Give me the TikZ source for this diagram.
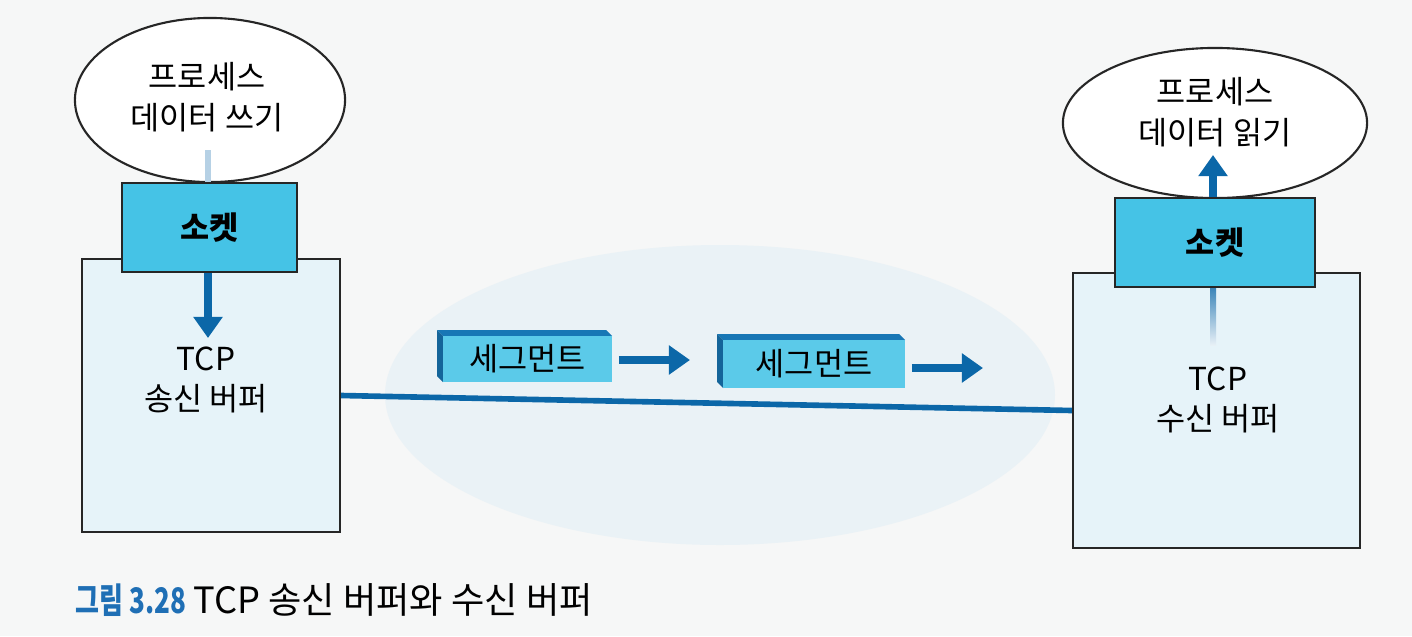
\documentclass[tikz,border=0pt]{standalone}
\usepackage{fontspec}
\usepackage{graphicx}
\setmainfont{Noto Sans CJK KR}
\usetikzlibrary{arrows.meta,shapes.geometric}
\definecolor{bg}{HTML}{F6F7F7}
\definecolor{cloudc}{HTML}{EAF2F6}
\definecolor{sockc}{HTML}{45C3E6}
\definecolor{bufc}{HTML}{E6F3F9}
\definecolor{darkb}{HTML}{0B67A8}
\definecolor{edgeb}{HTML}{1877B5}
\definecolor{capb}{HTML}{1F6FB5}
\tikzset{
  proc/.style={ellipse,draw=black!85,line width=0.6pt,fill=white,align=center,font=\fontsize{9}{11.5}\selectfont},
  sock/.style={rectangle,draw=black!85,line width=0.7pt,fill=sockc,font=\bfseries\fontsize{9}{11}\selectfont},
  buf/.style={rectangle,draw=black!85,line width=0.6pt,fill=bufc},
  lbl/.style={align=center,font=\fontsize{9}{11.5}\selectfont},
  flow/.style={draw=darkb,line width=2.2pt,-{Triangle[length=6pt,width=8pt]}},
  seglbl/.style={font=\fontsize{9}{11}\selectfont},
  segbox/.style={rectangle,fill=sockc!88!white,inner sep=0pt,seglbl},
  link/.style={draw=darkb,line width=1.6pt}
}
\begin{document}
\begin{tikzpicture}[x=0.01cm,y=-0.01cm]
\useasboundingbox (0,0) rectangle (1412,636);
\fill[bg] (0,0) rectangle (1412,636);
% faint cloud
\fill[cloudc] (720,395) ellipse [x radius=335, y radius=150];
% left host
\node[proc,minimum width=2.7cm,minimum height=1.64cm] (lproc) at (210,100) {};
\node[lbl] (lproctxt) at (207,97) {프로세스\\데이터 쓰기};
\node[buf,minimum width=2.58cm,minimum height=2.73cm] (lbuf) at (211,395.5) {};
\node[sock,minimum width=1.75cm,minimum height=0.89cm] (lsock) at (209.5,227.5) {소켓};
\node[lbl] (lbuftxt) at (206,380) {TCP\\송신 버퍼};
\coordinate (lin) at (208,150);
\coordinate (lout) at (208,338);
\draw[draw=darkb!30,line width=1.8pt] (lin) -- (lsock.north -| lin);
\draw[flow] (lsock.south -| lout) -- (lout);
% right host
\node[proc,minimum width=3.04cm,minimum height=1.50cm] (rproc) at (1215,123) {};
\node[lbl] (rproctxt) at (1215,112) {프로세스\\데이터 읽기};
\node[buf,minimum width=2.87cm,minimum height=2.75cm] (rbuf) at (1216.5,410.5) {};
\node[sock,minimum width=2.0cm,minimum height=0.89cm] (rsock) at (1215,242.5) {소켓};
\node[lbl] (rbuftxt) at (1218,400) {TCP\\수신 버퍼};
\coordinate (rin) at (1213,345);
\coordinate (rtop) at (1213,155);
\shade[bottom color=darkb!10,top color=darkb!80] (1210,288) rectangle (1216,345);
\draw[flow] (rsock.north -| rtop) -- (rtop);
% link
\draw[link] (lbuf.east) -- (rbuf.west);
% segments
\fill[edgeb] (437,330) -- (606,330) -- (612,336) -- (443,336) -- cycle;
\fill[edgeb!85!black] (437,330) -- (443,336) -- (443,382) -- (437,376) -- cycle;
\node[segbox,minimum width=1.69cm,minimum height=0.46cm] (seg1) at (527.5,359) {세그먼트};
\fill[edgeb] (717,334) -- (899,334) -- (905,340) -- (723,340) -- cycle;
\fill[edgeb!85!black] (717,334) -- (723,340) -- (723,388) -- (717,382) -- cycle;
\node[segbox,minimum width=1.82cm,minimum height=0.48cm] (seg2) at (814,364) {세그먼트};
\coordinate (a1) at (690,360);
\coordinate (a2) at (983,368);
\draw[flow,line width=2pt] (seg1.east |- a1) ++(6,0) -- (a1);
\draw[flow,line width=2pt] (seg2.east |- a2) ++(6,0) -- (a2);
% caption
\node[anchor=base west,inner sep=0pt,text=capb,font=\bfseries\fontsize{10}{12}\selectfont] (capn) at (75,613) {\scalebox{0.74}[1]{그림 3.28}};
\node[anchor=base west,inner sep=0pt,font=\fontsize{10.3}{12}\selectfont] (capt) at (193,613) {TCP 송신 버퍼와 수신 버퍼};
\end{tikzpicture}
\end{document}
